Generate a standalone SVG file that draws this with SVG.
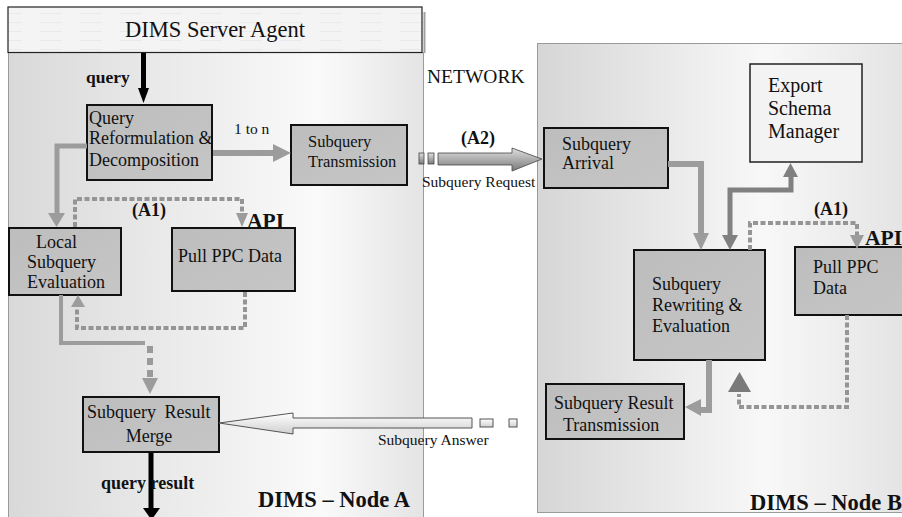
<svg xmlns="http://www.w3.org/2000/svg" width="902" height="517" viewBox="0 0 902 517">
  <style>
    .t { font-family: "Liberation Serif", "Times New Roman", serif; font-size: 18px; fill: #111; }
    .b { font-weight: bold; }
    .box { fill: url(#boxFill); stroke: #111; stroke-width: 2; }
    .panel { stroke: #9a9a9a; stroke-width: 1; }
    .solid { fill: none; stroke: #9c9c9c; stroke-width: 6; }
    .dark { fill: none; stroke: #808080; stroke-width: 5; }
    .dot { fill: none; stroke: #959595; stroke-width: 4; stroke-dasharray: 5 2.5; }
    .dot2 { fill: none; stroke: #9a9a9a; stroke-width: 6; stroke-dasharray: 7 5; }
    .head { fill: #9c9c9c; }
    .headDark { fill: #808080; }
    .blk { fill: none; stroke: #000; stroke-width: 5; }
  </style>
  <defs>
    <linearGradient id="panelA" x1="0" y1="0" x2="1" y2="0">
      <stop offset="0" stop-color="#d9d9d9"/>
      <stop offset="0.75" stop-color="#fafafa"/>
      <stop offset="1" stop-color="#e4e4e4"/>
    </linearGradient>
    <linearGradient id="panelB" x1="0" y1="0" x2="1" y2="0">
      <stop offset="0" stop-color="#d6d6d6"/>
      <stop offset="0.6" stop-color="#f8f8f8"/>
      <stop offset="1" stop-color="#e2e2e2"/>
    </linearGradient>
    <linearGradient id="boxFill" x1="0" y1="0" x2="1" y2="1">
      <stop offset="0" stop-color="#bdbdbd"/>
      <stop offset="1" stop-color="#c6c6c6"/>
    </linearGradient>
    <linearGradient id="reqFill" x1="0" y1="0" x2="0" y2="1">
      <stop offset="0" stop-color="#e0e0e0"/>
      <stop offset="1" stop-color="#7a7a7a"/>
    </linearGradient>
    <linearGradient id="ansFill" x1="0" y1="0" x2="0" y2="1">
      <stop offset="0" stop-color="#ffffff"/>
      <stop offset="1" stop-color="#d0d0d0"/>
    </linearGradient>
    <pattern id="hatch" width="40" height="9" patternUnits="userSpaceOnUse">
      <rect width="40" height="9" fill="#f4f4f4"/>
      <line x1="0" y1="4.5" x2="22" y2="4.5" stroke="#eaeaea" stroke-width="1"/>
    </pattern>
  </defs>

  <rect width="902" height="517" fill="#ffffff"/>

  <!-- node panels -->
  <g id="panel-node-a">
    <rect class="panel" x="8.5" y="52.5" width="415" height="470" fill="url(#panelA)"/>
    <text class="t b" x="258" y="507" style="font-size:22.5px">DIMS – Node A</text>
  </g>
  <g id="panel-node-b">
    <rect class="panel" x="537.5" y="43.5" width="380" height="469" fill="url(#panelB)"/>
    <text class="t b" x="750" y="510" style="font-size:22.5px">DIMS – Node B</text>
  </g>

  <text id="network" class="t" x="427" y="83" style="font-size:19.5px">NETWORK</text>

  <!-- nodes -->
  <g id="server-agent">
    <line x1="424.5" y1="12" x2="424.5" y2="53" stroke="#a0a0a0" stroke-width="2"/>
    <rect x="8" y="7" width="414" height="45.5" fill="url(#hatch)" stroke="#222" stroke-width="1.2"/>
    <text class="t" x="215" y="37" text-anchor="middle" style="font-size:22.5px">DIMS Server Agent</text>
  </g>

  <g id="query-reformulation">
    <rect class="box" x="87" y="105" width="125" height="75"/>
    <text class="t" x="89" y="124">Query</text>
    <text class="t" x="89" y="144">Reformulation &amp;</text>
    <text class="t" x="89" y="166">Decomposition</text>
  </g>

  <g id="subquery-transmission">
    <rect class="box" x="291" y="125" width="116" height="60"/>
    <text class="t" x="308" y="147" style="font-size:16.5px">Subquery</text>
    <text class="t" x="308" y="167" style="font-size:16.5px">Transmission</text>
  </g>

  <g id="local-evaluation">
    <rect class="box" x="9" y="228" width="112" height="67"/>
    <text class="t" x="36" y="248">Local</text>
    <text class="t" x="27" y="268">Subquery</text>
    <text class="t" x="27" y="288">Evaluation</text>
  </g>

  <g id="pull-ppc-a">
    <rect class="box" x="172" y="228" width="123" height="63"/>
    <text class="t" x="178" y="262">Pull PPC Data</text>
  </g>

  <g id="result-merge">
    <rect class="box" x="83" y="397" width="136" height="55"/>
    <text class="t" x="87" y="418" style="word-spacing:4px">Subquery Result</text>
    <text class="t" x="149" y="442" text-anchor="middle">Merge</text>
  </g>

  <g id="subquery-arrival">
    <rect class="box" x="544" y="128" width="124" height="60"/>
    <text class="t" x="562" y="150">Subquery</text>
    <text class="t" x="562" y="169">Arrival</text>
  </g>

  <g id="export-schema">
    <rect x="750" y="64" width="112" height="98" fill="#f3f3f3" stroke="#222" stroke-width="1.5"/>
    <text class="t" x="768" y="92" style="font-size:20px">Export</text>
    <text class="t" x="768" y="115" style="font-size:20px">Schema</text>
    <text class="t" x="768" y="138" style="font-size:20px">Manager</text>
  </g>

  <g id="rewriting-evaluation">
    <rect class="box" x="634" y="250" width="131" height="110"/>
    <text class="t" x="652" y="290">Subquery</text>
    <text class="t" x="652" y="311">Rewriting &amp;</text>
    <text class="t" x="652" y="332">Evaluation</text>
  </g>

  <g id="pull-ppc-b">
    <rect class="box" x="795" y="247" width="120" height="68"/>
    <text class="t" x="813" y="273">Pull PPC</text>
    <text class="t" x="813" y="294">Data</text>
  </g>

  <g id="result-transmission">
    <rect class="box" x="546" y="384" width="138" height="55"/>
    <text class="t" x="554" y="409">Subquery Result</text>
    <text class="t" x="563" y="431">Transmission</text>
  </g>

  <!-- connectors -->
  <g id="connectors">
    <!-- query in / result out -->
    <line class="blk" x1="143.5" y1="53" x2="143.5" y2="90"/>
    <polygon points="138,88 149,88 143.5,103" fill="#000"/>
    <text class="t b" x="86" y="83" style="font-size:17.5px">query</text>

    <line class="blk" x1="151" y1="453" x2="151" y2="510"/>
    <polygon points="143,508 160,508 151.5,520" fill="#000"/>
    <text class="t b" x="101" y="489" style="font-size:18px">query result</text>

    <!-- 1 to n -->
    <line class="solid" x1="213" y1="153" x2="274" y2="153"/>
    <polygon class="head" points="273,144 291,153 273,162"/>
    <text class="t" x="234" y="134" style="font-size:15.5px">1 to n</text>

    <!-- reformulation to local evaluation -->
    <path class="solid" d="M87,146 H57 V214" style="stroke-width:5"/>
    <polygon class="head" points="48,213 65,213 56.5,227"/>

    <!-- (A1) call on node A -->
    <path class="dot" d="M75,227 V199 H242 V214"/>
    <polygon class="head" points="236,213 248,213 242,227"/>
    <text class="t b" x="132" y="216">(A1)</text>
    <text class="t b" x="247" y="228" style="font-size:21.5px">API</text>

    <!-- pulled data back to local evaluation -->
    <path class="dot" d="M245,292 V328 H77 V306"/>
    <polygon class="head" points="71,307 85,307 78,295"/>

    <!-- local evaluation to merge -->
    <path class="solid" d="M61,295 V343 H145" style="stroke-width:4"/>
    <path class="dot2" d="M150,346 V378"/>
    <polygon class="head" points="142,378 158,378 150,394"/>

    <!-- subquery request across network -->
    <rect x="419" y="153" width="5" height="11" fill="url(#reqFill)" stroke="#444" stroke-width="0.8"/>
    <rect x="428" y="153" width="6" height="11" fill="url(#reqFill)" stroke="#444" stroke-width="0.8"/>
    <polygon points="438,153 512,153 512,148 542,159 512,171 512,165 438,165" fill="url(#reqFill)" stroke="#444" stroke-width="0.8"/>
    <text class="t b" x="461" y="144">(A2)</text>
    <text class="t" x="422" y="187" style="font-size:15.5px">Subquery Request</text>

    <!-- subquery answer across network -->
    <polygon points="219,423 293,413 293,418 472,418 472,428 293,428 293,434" fill="url(#ansFill)" stroke="#555" stroke-width="1"/>
    <rect x="480" y="419" width="13" height="8" fill="url(#ansFill)" stroke="#555" stroke-width="1"/>
    <rect x="509" y="419" width="8" height="8" fill="url(#ansFill)" stroke="#555" stroke-width="1"/>
    <text class="t" x="378" y="445" style="font-size:15.5px">Subquery Answer</text>

    <!-- arrival to rewriting -->
    <path class="solid" d="M668,164 H701 V234"/>
    <polygon class="head" points="693,233 709,233 701,250"/>

    <!-- rewriting to/from export schema -->
    <path class="dark" d="M730,236 V190 H791 V176"/>
    <polygon class="headDark" points="783,177 798,177 790.5,163"/>
    <polygon class="headDark" points="722,235 738,235 730,250"/>

    <!-- (A1) call on node B -->
    <path class="dot" d="M750,250 V223 H857 V236"/>
    <polygon class="head" points="850,235 864,235 857,249"/>
    <text class="t b" x="814" y="215">(A1)</text>
    <text class="t b" x="865" y="245" style="font-size:21.5px">API</text>

    <!-- pulled data back to rewriting -->
    <path class="dot" d="M847,315 V407 H739 V394"/>
    <polygon points="728,392 751,392 739.5,372" fill="#7a7a7a"/>

    <!-- rewriting to result transmission -->
    <path class="solid" d="M709,360 V410 H699"/>
    <polygon class="head" points="701,399 701,416 685,407"/>
  </g>
</svg>
